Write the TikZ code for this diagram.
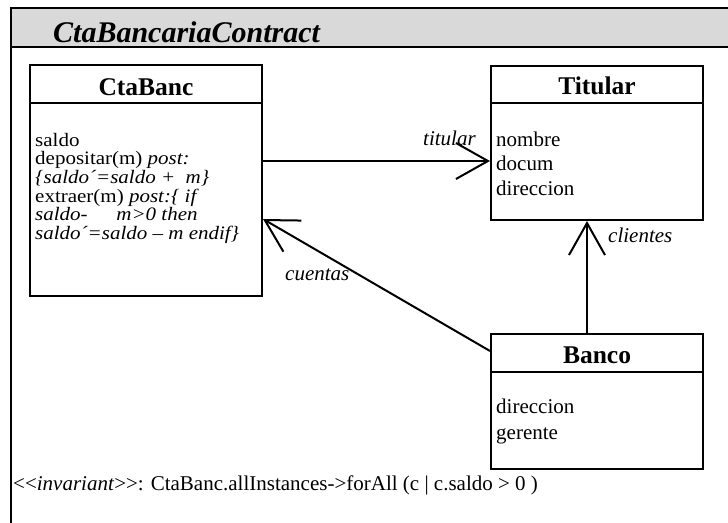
\documentclass[tikz,border=0pt]{standalone}
\usepackage{fontspec}
\usepackage{graphicx}
\setmainfont{Liberation Serif}
\usetikzlibrary{arrows.meta,calc}
\newcommand{\sqz}[1]{\scalebox{1.105}[1]{#1}}
\begin{document}
\begin{tikzpicture}[x=1pt,y=-1pt,
 box/.style={draw,line width=2pt,rectangle,inner sep=0pt},
 sep/.style={line width=2pt},
 txt/.style={anchor=base west,inner sep=0pt,font=\fontsize{21}{21}\selectfont},
 sqtxt/.style={anchor=base west,inner sep=0pt,font=\fontsize{19}{19}\selectfont},
 hdr/.style={anchor=base,inner sep=0pt,font=\fontsize{25.5}{25.5}\selectfont\bfseries},
 lbl/.style={anchor=base west,inner sep=0pt,font=\fontsize{21}{21}\selectfont\itshape},
 assoc/.style={line width=2pt,-{Straight Barb[length=32pt,width=36pt]}}]
\useasboundingbox (0,0) rectangle (728,522);
% frame
\fill[gray!30] (11,8) rectangle (730,47);
\draw[sep] (730,8) -- (11,8) -- (11,524);
\draw[sep] (11,47) -- (730,47);
\node[anchor=base west,inner sep=0pt,font=\fontsize{30}{30}\selectfont\bfseries\itshape] (title) at (53,42) {CtaBancariaContract};
% boxes
\node[box,minimum width=232pt,minimum height=231pt] (ctabanc) at (146,180.5) {};
\node[box,minimum width=212pt,minimum height=154pt] (titular) at (597,143) {};
\node[box,minimum width=212pt,minimum height=135pt] (banco) at (597,401.5) {};
\draw[sep] ($(ctabanc.north west)+(0,39)$) -- ($(ctabanc.north east)+(0,39)$);
\draw[sep] ($(titular.north west)+(0,38)$) -- ($(titular.north east)+(0,38)$);
\draw[sep] ($(banco.north west)+(0,39)$) -- ($(banco.north east)+(0,39)$);
% headers
\node[hdr] (h1) at (146,95) {CtaBanc};
\node[hdr] (h2) at (597,94) {Titular};
\node[hdr] (h3) at (597,363) {Banco};
% CtaBanc body
\node[sqtxt] (c1) at (35,146) {\sqz{saldo}};
\node[sqtxt] (c2) at (35,164.7) {\sqz{depositar(m) \textit{post:}}};
\node[sqtxt] (c3) at (35,183.4) {\sqz{\textit{\{saldo´=saldo +\ \ m\}}}};
\node[sqtxt] (c4) at (35,202.1) {\sqz{extraer(m) \textit{post:\{ if}}};
\node[sqtxt] (c5) at (35,220.8) {\sqz{\textit{saldo-\hspace{26pt}m>0 then}}};
\node[sqtxt] (c6) at (35,239.5) {\sqz{\textit{saldo´=saldo – m endif\}}}};
% Titular body
\node[txt] (t1) at (496,146) {nombre};
\node[txt] (t2) at (496,170.5) {docum};
\node[txt] (t3) at (496,195) {direccion};
% Banco body
\node[txt] (b1) at (496,413) {direccion};
\node[txt] (b2) at (496,439) {gerente};
% connectors
\draw[assoc] ($(ctabanc.north east)+(0,97)$) -- ($(titular.north west)+(0,96)$);
\draw[assoc] ($(banco.north west)+(0,18)$) -- ($(ctabanc.north east)+(0,155)$);
\draw[assoc] ($(banco.north)+(-10,0)$) -- ($(titular.south)+(-10,0)$);
% labels
\node[lbl] (l1) at (423,145) {titular};
\node[lbl] (l2) at (285,280) {cuentas};
\node[lbl] (l3) at (608,242) {clientes};
% invariant
\node[txt] (inv) at (13,490) {<\kern0pt<\textit{invariant}>\kern0pt>: CtaBanc.allInstances->forAll (c | c.saldo > 0 )};
\end{tikzpicture}
\end{document}
